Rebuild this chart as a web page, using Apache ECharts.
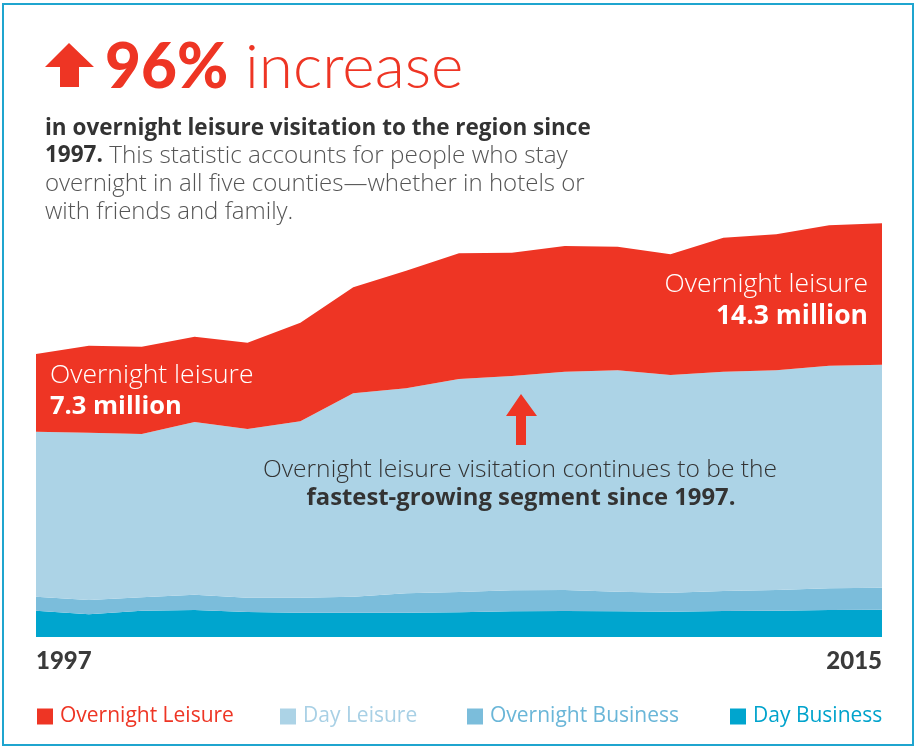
<!DOCTYPE html>
<html>
<head>
<meta charset="utf-8">
<script src="https://cdn.jsdelivr.net/npm/echarts@6/dist/echarts.min.js"></script>
<style>
  html, body { margin: 0; padding: 0; background: #ffffff; }
  #frame { position: absolute; left: 2px; top: 3px; width: 908px; height: 739px; border: 2px solid #1fa5cf; }
  #chart { position: absolute; left: 0; top: 0; width: 920px; height: 748px; }
</style>
</head>
<body>
<div id="frame"></div>
<div id="chart"></div>
<script>
// ---- data (millions of visitors) ----
const categories = ['1997','1998','1999','2000','2001','2002','2003','2004','2005','2006','2007','2008','2009','2010','2011','2012','2015'];
const tickLabels = ['1997', '2015'];
const dayBusiness       = [2.63, 2.27, 2.63, 2.70, 2.50, 2.43, 2.43, 2.43, 2.47, 2.57, 2.60, 2.57, 2.53, 2.60, 2.63, 2.70, 2.73];
const overnightBusiness = [1.40, 1.43, 1.34, 1.53, 1.43, 1.50, 1.60, 1.94, 2.03, 2.10, 2.10, 1.96, 1.90, 2.00, 2.07, 2.17, 2.20];
const dayLeisure        = [16.50, 16.73, 16.33, 17.27, 16.87, 17.64, 20.34, 20.50, 21.30, 21.43, 21.83, 22.14, 21.77, 21.93, 21.97, 22.26, 22.30];
const overnightLeisure  = [7.77, 8.70, 8.73, 8.53, 8.63, 9.86, 10.60, 11.76, 12.57, 12.33, 12.57, 12.36, 12.07, 13.40, 13.60, 14.04, 14.14];
const seriesNames = ['Overnight Leisure', 'Day Leisure', 'Overnight Business', 'Day Business'];

const RED = '#ee3524', LIGHT = '#acd3e6', MID = '#7bbddb', DARK = '#00a5ce';
const legendText = { 'Overnight Leisure': '#ee3524', 'Day Leisure': '#a8d0e5', 'Overnight Business': '#6ab6d8', 'Day Business': '#00a3cc' };
const legendLeft = [32, 275, 462, 725];
const FONT = 'Lato, "Open Sans", sans-serif';
const FONT2 = '"Open Sans", Lato, sans-serif';

const chart = echarts.init(document.getElementById('chart'), null, { renderer: 'canvas' });

function area(name, data, color) {
  return {
    name, type: 'line', stack: 'total', data,
    showSymbol: false, symbol: 'none', smooth: false,
    lineStyle: { width: 0 },
    itemStyle: { color },
    areaStyle: { color, opacity: 1 },
    emphasis: { disabled: true },
    silent: true
  };
}

const Z = 100;
chart.setOption({
  animation: false,
  backgroundColor: 'transparent',
  grid: { left: 36, right: 38, top: 187, bottom: 111, containLabel: false },
  xAxis: {
    type: 'category', data: categories, boundaryGap: false,
    axisLine: { show: false }, axisTick: { show: false }, splitLine: { show: false },
    axisLabel: {
      interval: 0, margin: 12, alignMinLabel: 'left', alignMaxLabel: 'right',
      color: '#3a3a3a', fontFamily: FONT, fontWeight: 900, fontSize: 24,
      formatter: (v, i) => i === 0 ? tickLabels[0] : (i === categories.length - 1 ? tickLabels[1] : '')
    }
  },
  yAxis: { type: 'value', min: 0, max: 45, show: false },
  legend: seriesNames.map((n, i) => ({
    left: legendLeft[i], top: 701, icon: 'rect', itemWidth: 16, itemHeight: 16,
    selectedMode: false,
    textStyle: { fontFamily: '"Open Sans", sans-serif', fontSize: 21, color: legendText[n], padding: [0, 0, 0, 2] },
    data: [n]
  })),
  series: [
    area('Day Business', dayBusiness, DARK),
    area('Overnight Business', overnightBusiness, MID),
    area('Day Leisure', dayLeisure, LIGHT),
    area('Overnight Leisure', overnightLeisure, RED)
  ],
  graphic: [
    { type: 'polygon', z: Z, shape: { points: [[69,43],[94,67],[79,67],[79,87],[60,87],[60,67],[45,67]] }, style: { fill: RED } },
    { type: 'text', z: Z, left: 105, top: 37, style: {
        text: '{b|96%}{l| increase}',
        rich: {
          b: { fontFamily: FONT, fontWeight: 900, fontSize: 62, fill: RED },
          l: { fontFamily: FONT, fontWeight: 300, fontSize: 62, fill: RED }
        } } },
    { type: 'text', z: Z, left: 45, top: 117, style: { text: 'in overnight leisure visitation to the region since', fontFamily: FONT2, fontWeight: 'bold', fontSize: 22.5, fill: '#333333' } },
    { type: 'text', z: Z, left: 45, top: 144, style: {
        text: '{b|1997.}{l| This statistic accounts for people who stay}',
        rich: {
          b: { fontFamily: FONT2, fontWeight: 'bold', fontSize: 22.5, fill: '#333333' },
          l: { fontFamily: FONT2, fontWeight: 300, fontSize: 24.3, fill: '#555555' }
        } } },
    { type: 'text', z: Z, left: 45, top: 172.5, style: { text: 'overnight in all five counties\u2014whether in hotels or', fontFamily: FONT2, fontWeight: 300, fontSize: 24, fill: '#555555' } },
    { type: 'text', z: Z, left: 45, top: 200.5, style: { text: 'with friends and family.', fontFamily: FONT2, fontWeight: 300, fontSize: 24, fill: '#555555' } },

    { type: 'text', z: Z, left: 50, top: 361.5, style: { text: 'Overnight leisure', fontFamily: FONT2, fontWeight: 300, fontSize: 26.5, fill: '#ffffff' } },
    { type: 'text', z: Z, left: 50, top: 393.5, style: { text: '7.3 million', fontFamily: FONT2, fontWeight: 'bold', fontSize: 25.5, fill: '#ffffff' } },
    { type: 'text', z: Z, right: 52, top: 270.5, style: { text: 'Overnight leisure', fontFamily: FONT2, fontWeight: 300, fontSize: 26.5, fill: '#ffffff', align: 'right' } },
    { type: 'text', z: Z, right: 52, top: 302.5, style: { text: '14.3 million', fontFamily: FONT2, fontWeight: 'bold', fontSize: 26.5, fill: '#ffffff', align: 'right' } },

    { type: 'polygon', z: Z, shape: { points: [[521,394],[537,416],[526,416],[526,445],[516,445],[516,416],[506,416]] }, style: { fill: RED } },
    { type: 'text', z: Z, x: 520, y: 457.5, style: { text: 'Overnight leisure visitation continues to be the', fontFamily: FONT2, fontWeight: 300, fontSize: 24.6, fill: '#333333', align: 'center' } },
    { type: 'text', z: Z, x: 521, y: 486.5, style: { text: 'fastest-growing segment since 1997.', fontFamily: FONT2, fontWeight: 'bold', fontSize: 23.8, fill: '#333333', align: 'center' } }
  ]
});
</script>
</body>
</html>
